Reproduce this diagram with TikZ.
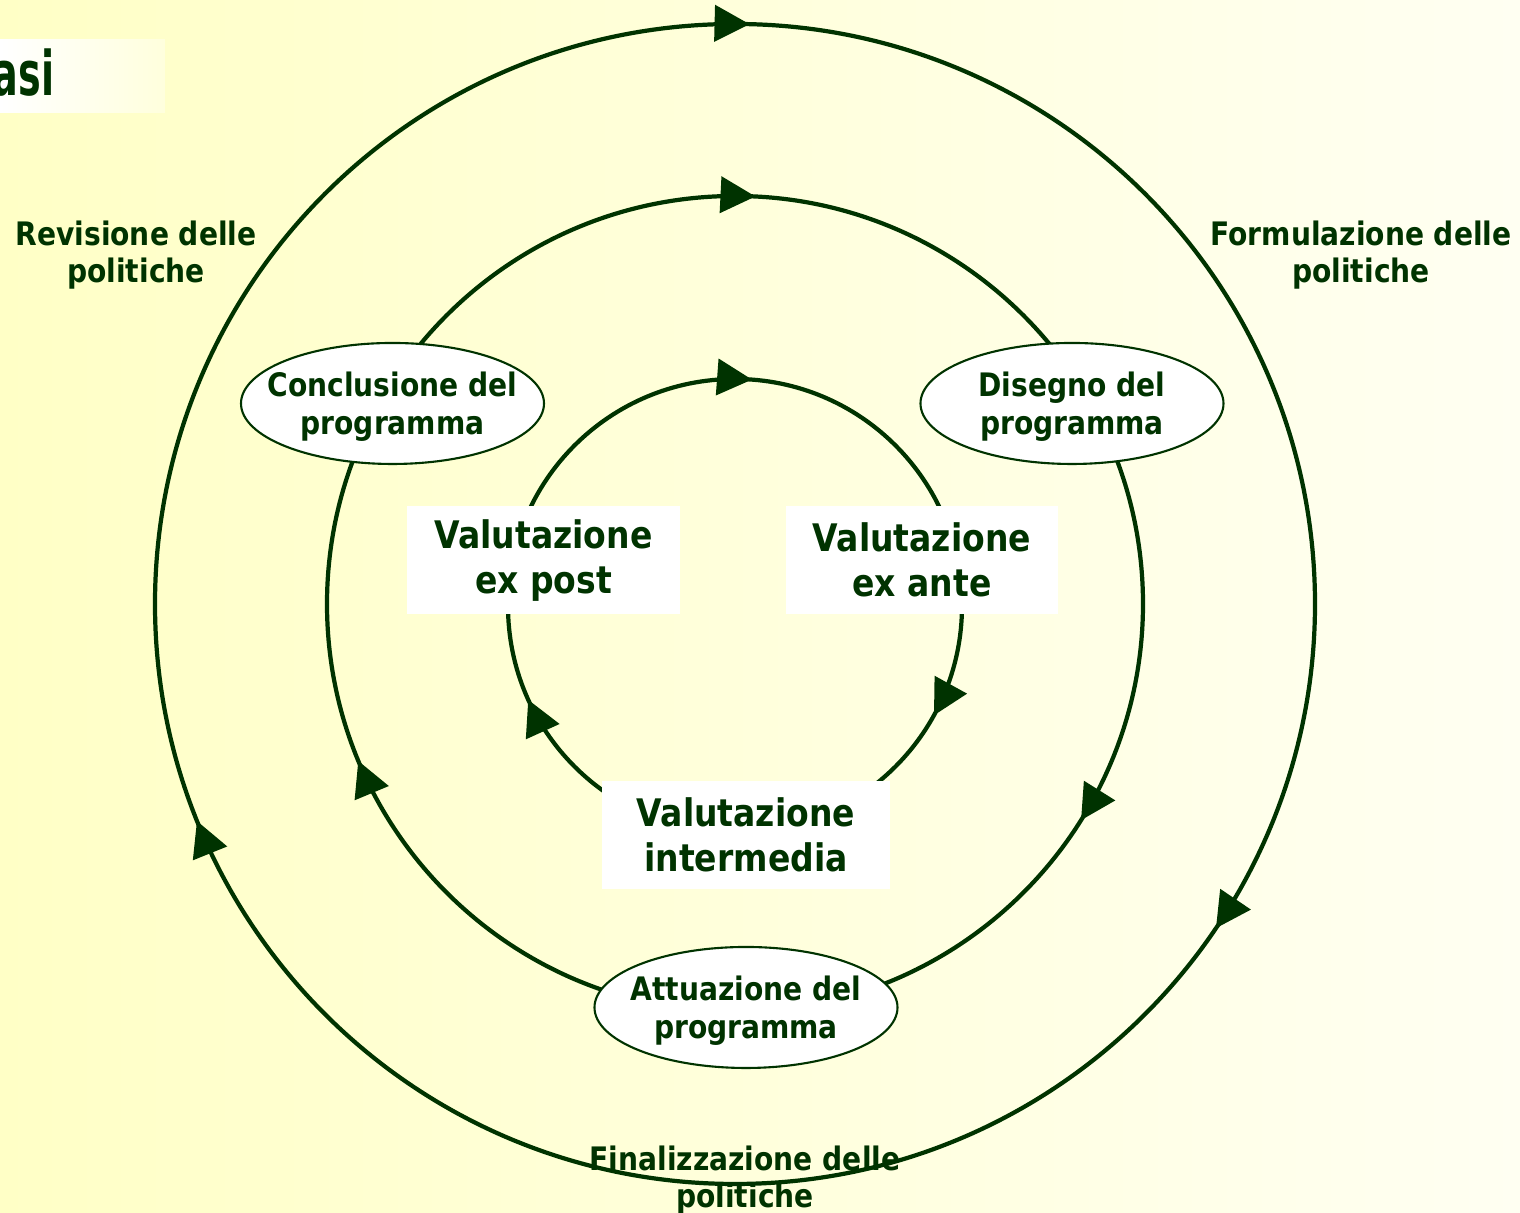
\documentclass[tikz,border=0pt]{standalone}
\usepackage{fontspec}
\usetikzlibrary{arrows.meta,shapes.geometric,decorations.markings}
\newfontfamily\tahoma{DejaVu Sans}[FakeStretch=0.87]
\newfontfamily\titlefont{DejaVu Sans}[FakeStretch=0.62]
\definecolor{darkgreen}{HTML}{003300}
\definecolor{paleyellow}{HTML}{FFFFC6}
\definecolor{paleivory}{HTML}{FFFFF2}
\tikzset{
  ring/.style n args={3}{draw=darkgreen,line width=1.2pt,
    postaction={decorate,decoration={markings,
      mark=at position #1 with {\arrow{Triangle[length=3.5mm,width=3.6mm]}},
      mark=at position #2 with {\arrow{Triangle[length=3.5mm,width=3.6mm]}},
      mark=at position #3 with {\arrow{Triangle[length=3.5mm,width=3.6mm]}}}}},
  policy/.style={text=darkgreen,font=\tahoma\bfseries\fontsize{9.2}{10.5}\selectfont,align=center,inner sep=0pt},
  phase/.style={ellipse,draw=darkgreen,line width=0.6pt,fill=white,minimum width=3.03cm,minimum height=1.21cm,
    inner xsep=-2.4mm,inner ysep=0pt,text depth=0pt,
    text=darkgreen,font=\tahoma\bfseries\fontsize{9.2}{10.8}\selectfont,align=center},
  evalbox/.style={fill=white,minimum width=2.73cm,minimum height=1.08cm,inner sep=0pt,
    text=darkgreen,font=\tahoma\bfseries\fontsize{10.8}{13}\selectfont,align=center}
}

\begin{document}
\begin{tikzpicture}
\useasboundingbox (0,0) rectangle (15.2,12.13);
\fill[left color=paleyellow,right color=paleivory] (0,0) rectangle (15.2,12.13);
% title strip, cut at the left edge
\fill[left color=white,right color=paleyellow!60] (0,11.00) rectangle (1.65,11.73);
\node (title) [anchor=east,inner sep=0pt,text=darkgreen,font=\titlefont\bfseries\fontsize{17.5}{17.5}\selectfont] at (0.55,11.40) {asi};
%
\coordinate (c) at (7.35,6.09);
\coordinate (ci) at (7.35,6.07);
% the three cycles, clockwise
\draw[ring={0.0944}{0.439}{0.754}] ([xshift=5.8cm]c) arc[start angle=0,end angle=-360,radius=5.8];
\draw[ring={0.0889}{0.4372}{0.758}] ([xshift=4.08cm]c) arc[start angle=0,end angle=-360,radius=4.08];
\draw[ring={0.08}{0.4322}{0.762}] ([xshift=2.27cm]ci) arc[start angle=0,end angle=-360,radius=2.27];
%
\node (conclusione) [phase] at (3.925,8.095) {Conclusione del\\programma};
\node (disegno) [phase] at (10.72,8.095) {Disegno del\\programma};
\node (attuazione) [phase] at (7.46,2.055) {Attuazione del\\programma};
%
\node (expost) [evalbox] at (5.435,6.525) {Valutazione\\ex post};
\node (exante) [evalbox,minimum width=2.72cm] at (9.22,6.53) {Valutazione\\ex ante};
\node (intermedia) [evalbox,minimum width=2.88cm] at (7.46,3.78) {Valutazione\\intermedia};
%
\node (revisione) [policy] at (1.36,9.58) {Revisione delle\\politiche};
\node (formulazione) [policy] at (13.61,9.58) {Formulazione delle\\politiche};
\node (finalizzazione) [policy] at (7.45,0.33) {Finalizzazione delle\\politiche};
\end{tikzpicture}
\end{document}
